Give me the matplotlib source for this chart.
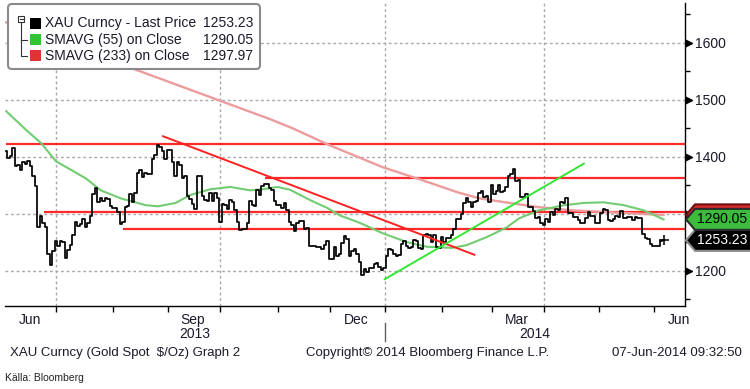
import numpy as np
import pandas as pd
import matplotlib
matplotlib.use('Agg')
import matplotlib.pyplot as plt
from matplotlib.patches import Polygon, Rectangle, FancyBboxPatch

plt.rcParams['font.family'] = ['Liberation Sans', 'DejaVu Sans']

# Bloomberg plots on a business-day axis
days = pd.bdate_range('2013-06-03', '2014-06-30')

# XAU spot daily close, 3 Jun 2013 - 6 Jun 2014
close = [
    # Jun 2013
    1411, 1398, 1402, 1415, 1383, 1386, 1377, 1390, 1388, 1392,
    1384, 1367, 1348, 1276, 1296, 1284, 1276, 1230, 1210, 1234,
    # Jul
    1253, 1243, 1252, 1250, 1223, 1236, 1245, 1263, 1285, 1278,
    1282, 1291, 1277, 1283, 1296, 1335, 1346, 1320, 1328, 1322,
    1327, 1325, 1313,
    # Aug
    1310, 1310, 1303, 1282, 1286, 1311, 1313, 1334, 1321, 1336,
    1372, 1376, 1365, 1371, 1370, 1370, 1396, 1404, 1420, 1418,
    1410, 1396,
    # Sep
    1412, 1412, 1390, 1366, 1391, 1386, 1363, 1367, 1331, 1326,
    1317, 1308, 1366, 1367, 1332, 1324, 1322, 1337, 1323, 1337,
    1327,
    # Oct
    1285, 1317, 1315, 1309, 1324, 1320, 1307, 1286, 1272, 1274,
    1274, 1283, 1323, 1316, 1314, 1341, 1333, 1348, 1352, 1353,
    1346, 1342, 1323,
    # Nov
    1315, 1315, 1310, 1318, 1307, 1286, 1281, 1270, 1283, 1287,
    1287, 1274, 1275, 1243, 1243, 1244, 1241, 1242, 1238, 1245,
    1253,
    # Dec
    1221, 1220, 1242, 1226, 1229, 1248, 1261, 1255, 1225, 1234,
    1238, 1230, 1216, 1193, 1203, 1198, 1204, 1204, 1212, 1214,
    1206, 1202,
    # Jan 2014
    1204, 1225, 1238, 1237, 1230, 1226, 1228, 1247, 1253, 1244,
    1240, 1242, 1254, 1253, 1240, 1238, 1262, 1264, 1263, 1250,
    1262, 1241, 1240,
    # Feb
    1260, 1251, 1258, 1257, 1262, 1274, 1290, 1290, 1300, 1318,
    1327, 1320, 1312, 1321, 1323, 1337, 1340, 1329, 1331, 1321,
    # Mar
    1350, 1334, 1340, 1351, 1338, 1340, 1347, 1367, 1370, 1379,
    1358, 1359, 1330, 1330, 1335, 1311, 1311, 1304, 1292, 1294,
    1284,
    # Apr
    1280, 1290, 1285, 1303, 1298, 1309, 1306, 1320, 1318, 1327,
    1302, 1301, 1295, 1294, 1289, 1284, 1284, 1292, 1303, 1296,
    1296, 1284,
    # May
    1283, 1301, 1309, 1307, 1289, 1288, 1291, 1296, 1294, 1305,
    1293, 1293, 1295, 1294, 1289, 1294, 1292, 1292, 1265, 1258,
    1256, 1246,
    # Jun
    1244, 1244, 1243, 1252, 1253.23,
]

sma55_dates = ['2013-06-03', '2013-06-13', '2013-06-21', '2013-07-01', '2013-07-09',
               '2013-07-17', '2013-07-25', '2013-08-06', '2013-08-20', '2013-08-27',
               '2013-09-05', '2013-09-13', '2013-09-25', '2013-10-07', '2013-10-17',
               '2013-10-24', '2013-11-01', '2013-11-08', '2013-11-20', '2013-11-29',
               '2013-12-06', '2013-12-18', '2013-12-31', '2014-01-14', '2014-01-24',
               '2014-02-07', '2014-02-17', '2014-02-27', '2014-03-11', '2014-03-18',
               '2014-03-28', '2014-04-11', '2014-04-23', '2014-05-05', '2014-05-15',
               '2014-05-27', '2014-06-06']
sma55 = [1480, 1447, 1424, 1392, 1377, 1362, 1341, 1327, 1315, 1313,
         1319, 1333, 1343, 1347, 1341, 1343, 1347, 1342, 1324, 1310,
         1297, 1284, 1266, 1250, 1242, 1240, 1245, 1259, 1276, 1292,
         1306, 1315, 1319, 1320, 1315, 1306, 1290.05]

sma233_dates = ['2013-06-03', '2013-08-07', '2013-10-29', '2013-11-11', '2013-12-02',
                '2013-12-31', '2014-01-22', '2014-02-11', '2014-02-24', '2014-03-12',
                '2014-03-27', '2014-04-16', '2014-05-05', '2014-06-06']
sma233 = [1636, 1561, 1466, 1450, 1420, 1382, 1359, 1338, 1327, 1319,
          1312, 1306, 1303, 1297.97]

# hand drawn support / resistance levels
levels = [1422, 1363, 1303, 1274]
level_from = ['2013-06-03', '2013-10-25', '2013-06-24', '2013-08-07']
down_dates = ['2013-08-29', '2014-02-20']
down_vals = [1436, 1228]
up_dates = ['2014-01-01', '2014-04-23']
up_vals = [1185, 1388]

month_names = {'2013-06': 'Jun', '2013-09': 'Sep', '2013-12': 'Dec',
               '2014-03': 'Mar', '2014-06': 'Jun'}
yticks = [1200, 1300, 1400, 1500, 1600]
# 1300 sits under the value tags in the original
ylabels = ['1200', '', '1400', '1500', '1600']


def pos(dates):
    return days.get_indexer(pd.to_datetime(dates))


fig = plt.figure(figsize=(7.5, 3.89), dpi=100)
ax = fig.add_axes([5 / 750, 83 / 389, 680 / 750, 303 / 389])
ax.set_xlim(-0.5, 272.6)
ax.set_ylim(1138, 1670)

idx = pd.Series(np.arange(len(days)), index=days)
per = days.to_period('M')
first = idx.groupby(per).min()
center = idx.groupby(per).mean()

# grid
grid_kw = dict(color='#a8a8a8', lw=1, ls=(0, (2, 2)), zorder=1)
for y in yticks:
    ax.axhline(y, **grid_kw)
for p, i in first.items():
    if p.month in (1, 4, 7, 10):
        ax.axvline(i, **grid_kw)

# levels and trend lines
ax.hlines(levels, pos(level_from), ax.get_xlim()[1], color='#ff2a2a', lw=1.6, zorder=2)
ax.plot(pos(sma233_dates), sma233, color='#ec9c9c', lw=1.7, zorder=3)
ax.plot(pos(sma55_dates), sma55, color='#72cc72', lw=1.5, zorder=3)
ax.plot(range(len(close)), close, color='black', lw=1.25, drawstyle='steps-mid', zorder=4)
ax.plot(len(close) - 1, close[-1], marker='+', ms=7, mew=1.1, color='black', zorder=4)
ax.plot(pos(down_dates), down_vals, color='#ff2020', lw=1.4, zorder=5)
ax.plot(pos(up_dates), up_vals, color='#33e633', lw=1.4, zorder=5)

# axes styling
for s in ['left', 'top']:
    ax.spines[s].set_visible(False)
for s in ['right', 'bottom']:
    ax.spines[s].set_color('black')
    ax.spines[s].set_linewidth(1)

ax.yaxis.tick_right()
ax.set_yticks(yticks)
ax.set_yticklabels(ylabels)
ax.set_yticks(np.arange(1150, 1700, 100), minor=True)
ax.tick_params(axis='y', which='major', length=0, pad=7.5, labelsize=10, labelcolor='#1a1a2a')
ax.tick_params(axis='y', which='minor', length=3.5, width=1, direction='out')
tri = [(0, -0.5), (1, 0), (0, 0.5)]
ax.plot(np.ones(len(yticks)), yticks, ls='none', marker=tri, ms=10, color='black',
        transform=ax.get_yaxis_transform(), clip_on=False)

lab = [(center[pd.Period(k)], v) for k, v in month_names.items()]
ax.set_xticks([a for a, b in lab])
ax.set_xticklabels([b for a, b in lab])
ax.set_xticks(first.values[1:], minor=True)
ax.tick_params(axis='x', which='major', length=0, pad=5, labelsize=10, labelcolor='#1a1a2a')
ax.tick_params(axis='x', which='minor', length=4, width=1, direction='out')

jan1 = first[pd.Period('2014-01')]
xt = ax.get_xaxis_transform()
ax.plot([jan1, jan1], [-0.055, -0.115], transform=xt, clip_on=False, color='#606060', lw=1)
x0, x1 = ax.get_xlim()
ax.text((x0 + jan1) / 2, -0.092, '2013', transform=xt, ha='center', va='center', fontsize=10, color='#1a1a2a')
ax.text((jan1 + x1) / 2, -0.092, '2014', transform=xt, ha='center', va='center', fontsize=10, color='#1a1a2a')

# overlay in pixel coordinates (origin top left)
ov = fig.add_axes([0, 0, 1, 1], zorder=10)
ov.set_xlim(0, 750)
ov.set_ylim(389, 0)
ov.axis('off')


def ypix(v):
    return 389 - ax.transData.transform((0, v))[1]


# legend
ov.add_patch(FancyBboxPatch((8, 4), 252, 65, boxstyle='round,pad=0,rounding_size=4',
                            fc='white', ec='#8a8a8a', lw=1.5))
rows = [('XAU Curncy - Last Price', close[-1], 'black', 23),
        ('SMAVG (55) on Close', sma55[-1], '#33c433', 39.5),
        ('SMAVG (233) on Close', sma233[-1], '#e03333', 55.5)]
for name, val, col, y in rows:
    ov.add_patch(Rectangle((29.5, y - 5.5), 11, 11, fc=col, ec='none'))
    ov.text(45, y, name, va='center', ha='left', fontsize=10, color='#1a1a2a')
    ov.text(253, y, f'{val:.2f}', va='center', ha='right', fontsize=10, color='#1a1a2a')
ov.add_patch(Rectangle((18, 16), 6, 6, fc='white', ec='#333333', lw=0.8))
ov.plot([19.5, 22.5], [19, 19], color='#333333', lw=0.8)
ov.plot([21, 21, 27], [22, 55.5, 55.5], color='#333333', lw=0.8)
ov.plot([21, 27], [39.5, 39.5], color='#333333', lw=0.8)

# last value tags on the right axis, later tags cover earlier ones;
# the 233-day tag is almost fully hidden, so it gets no text
tags = [(close[-1], 'black', '#8c8c8c', 'white', True),
        (sma233[-1], '#d42a2a', '#701010', 'white', False),
        (sma55[-1], '#3cbb3c', '#2a2a2a', 'black', True)]
for k, (val, fc, ec, tc, show) in enumerate(tags):
    c = ypix(val)
    h = 10.5
    ov.add_patch(Polygon([(686, c), (695, c - h), (753, c - h), (753, c + h), (695, c + h)],
                         closed=True, fc=fc, ec=ec, lw=1.5, zorder=20 + 2 * k))
    if show:
        ov.text(697, c, f'{val:.2f}', va='center', ha='left', fontsize=10, color=tc,
                zorder=21 + 2 * k)

# footer
ov.text(10, 353, 'XAU Curncy (Gold Spot  $/Oz) Graph 2', va='center', ha='left', fontsize=9.5, color='#1a1a2a')
ov.text(306, 353, 'Copyright\u00a9 2014 Bloomberg Finance L.P.', va='center', ha='left', fontsize=9.5, color='#1a1a2a')
ov.text(742, 353, '07-Jun-2014 09:32:50', va='center', ha='right', fontsize=9.5, color='#1a1a2a')
ov.text(5, 378, 'K\u00e4lla: Bloomberg', va='center', ha='left', fontsize=7.5, color='#222222')

fig.savefig('out.png', dpi=100)
